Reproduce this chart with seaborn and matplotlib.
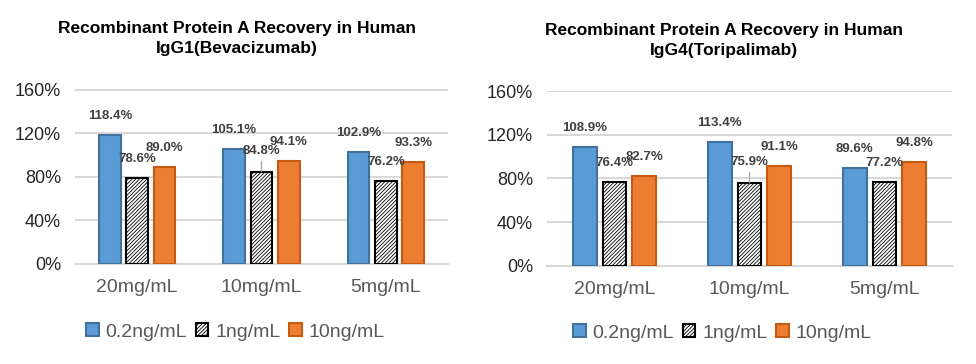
import pandas as pd
import seaborn as sns
import matplotlib.pyplot as plt
from matplotlib.patches import Patch

# data (recovery, %)
concentrations = ["20mg/mL", "10mg/mL", "5mg/mL"]
spikes = ["0.2ng/mL", "1ng/mL", "10ng/mL"]

igg1_02 = [118.4, 105.1, 102.9]
igg1_1 = [78.6, 84.8, 76.2]
igg1_10 = [89.0, 94.1, 93.3]

igg4_02 = [108.9, 113.4, 89.6]
igg4_1 = [76.4, 75.9, 77.2]
igg4_10 = [82.7, 91.1, 94.8]

titles = ["Recombinant Protein A Recovery in Human\nIgG1(Bevacizumab)",
          "Recombinant Protein A Recovery in Human\nIgG4(Toripalimab)"]
yticks = [0, 40, 80, 120, 160]

BLUE = "#5B9BD5"
ORANGE = "#ED7D31"
GRID = "#D9D9D9"
HATCH = "/////////"


def to_long(s02, s1, s10):
    rows = []
    for name, vals in zip(spikes, [s02, s1, s10]):
        for c, v in zip(concentrations, vals):
            rows.append({"conc": c, "spike": name, "recovery": v})
    return pd.DataFrame(rows)


sns.set_style("white")
plt.rcParams["font.family"] = ["Liberation Sans", "DejaVu Sans"]
plt.rcParams["hatch.linewidth"] = 0.6

fig = plt.figure(figsize=(9.76, 3.64), dpi=100)
ax1 = fig.add_axes([75 / 976, 1 - 264 / 364, 373 / 976, 175 / 364])
ax2 = fig.add_axes([547 / 976, 1 - 265.7 / 364, 405 / 976, 175 / 364])

# axes, data, title x/y (px), legend anchor, labels with a leader line
panels = [
    (ax1, to_long(igg1_02, igg1_1, igg1_10), 237, 38.5, 0.241, 0.088, {(1, 1)}),
    (ax2, to_long(igg4_02, igg4_1, igg4_10), 724, 40.5, 0.740, 0.085, {(1, 1)}),
]

for (ax, df, tx, ty, lx, ly, leaders), title in zip(panels, titles):
    sns.barplot(data=df, x="conc", y="recovery", hue="spike",
                palette=[BLUE, "white", ORANGE], saturation=1,
                width=0.66, gap=0.2, errorbar=None, legend=False,
                ax=ax, zorder=3)
    edges = ["#41719C", "black", "#C55A11"]
    for i, cont in enumerate(ax.containers):
        for j, bar in enumerate(cont):
            bar.set_edgecolor(edges[i])
            bar.set_linewidth(1.5)
            if i == 1:
                bar.set_facecolor("white")
                bar.set_hatch(HATCH)
            h = bar.get_height()
            xc = bar.get_x() + bar.get_width() / 2
            lead = (i, j) in leaders
            off = 21 if lead else 19
            kw = {}
            if lead:
                kw["arrowprops"] = dict(arrowstyle="-", color="#A6A6A6", lw=0.9,
                                        shrinkA=1, shrinkB=0)
            ax.annotate(f"{h:.1f}%", xy=(xc, h), xytext=(0, off * 0.72),
                        textcoords="offset points", ha="center", va="center",
                        fontsize=9.5, fontweight="bold", color="#404040",
                        zorder=5, **kw)

    ax.set_ylim(0, 160.5)
    ax.set_yticks(yticks)
    ax.set_yticklabels([f"{v}%" for v in yticks])
    ax.yaxis.grid(True, color=GRID, lw=1.5, zorder=0)
    ax.set_xlabel("")
    ax.set_ylabel("")
    for s in ["top", "right", "left"]:
        ax.spines[s].set_visible(False)
    ax.spines["bottom"].set_color(GRID)
    ax.spines["bottom"].set_linewidth(1.5)
    ax.tick_params(axis="y", length=0, pad=10, labelsize=13, labelcolor="#262626")
    ax.tick_params(axis="x", length=0, pad=11, labelsize=14, labelcolor="#595959")

    fig.text(tx / 976, 1 - ty / 364, title, ha="center", va="center",
             fontsize=12.5, fontweight="bold", color="black", linespacing=1.4)

    handles = [Patch(facecolor=BLUE, edgecolor="#41719C", lw=1.5),
               Patch(facecolor="white", edgecolor="black", hatch=HATCH, lw=1.5),
               Patch(facecolor=ORANGE, edgecolor="#C55A11", lw=1.5)]
    fig.legend(handles, spikes, loc="center", bbox_to_anchor=(lx, ly), ncol=3,
               frameon=False, fontsize=14, labelcolor="#595959",
               handlelength=0.65, handleheight=0.65, handletextpad=0.35,
               columnspacing=0.45, borderaxespad=0)

fig.savefig("out.png", dpi=100)
